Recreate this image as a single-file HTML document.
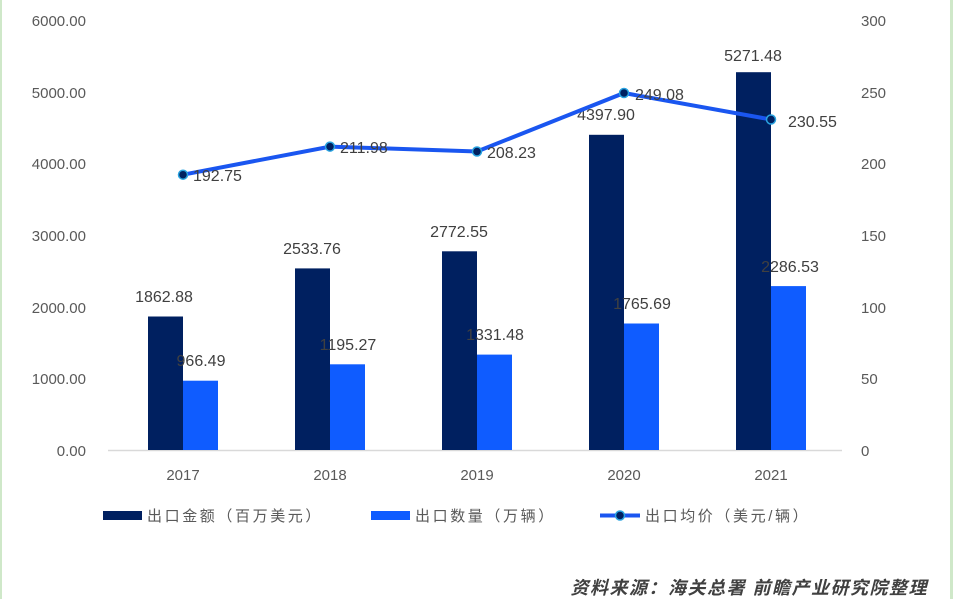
<!DOCTYPE html>
<html><head><meta charset="utf-8"><style>
html,body{margin:0;padding:0;background:#fff;}
svg{display:block;font-family:"Liberation Sans","Noto Sans CJK SC",sans-serif;}
</style></head><body>
<svg width="953" height="599" viewBox="0 0 953 599" xmlns="http://www.w3.org/2000/svg">
<rect x="0" y="0" width="953" height="599" fill="#fff"/>
<rect x="0" y="0" width="2" height="599" fill="#cfe8c9"/>
<rect x="950" y="0" width="3" height="599" fill="#cfe8c9"/>
<g font-size="15" fill="#595959" text-anchor="end">
<text x="86" y="26">6000.00</text>
<text x="86" y="98">5000.00</text>
<text x="86" y="169">4000.00</text>
<text x="86" y="241">3000.00</text>
<text x="86" y="313">2000.00</text>
<text x="86" y="384">1000.00</text>
<text x="86" y="456">0.00</text>
</g>
<g font-size="15" fill="#595959" text-anchor="start">
<text x="861" y="26">300</text>
<text x="861" y="98">250</text>
<text x="861" y="169">200</text>
<text x="861" y="241">150</text>
<text x="861" y="313">100</text>
<text x="861" y="384">50</text>
<text x="861" y="456">0</text>
</g>
<line x1="108" y1="450.5" x2="842" y2="450.5" stroke="#d9d9d9" stroke-width="1.5"/>
<g fill="#002060">
<rect x="148" y="316.5" width="35" height="133.5"/>
<rect x="295" y="268.4" width="35" height="181.6"/>
<rect x="442" y="251.3" width="35" height="198.7"/>
<rect x="589" y="134.8" width="35" height="315.2"/>
<rect x="736" y="72.2" width="35" height="377.8"/>
</g>
<g fill="#0f5cff">
<rect x="183" y="380.7" width="35" height="69.3"/>
<rect x="330" y="364.3" width="35" height="85.7"/>
<rect x="477" y="354.6" width="35" height="95.4"/>
<rect x="624" y="323.5" width="35" height="126.5"/>
<rect x="771" y="286.1" width="35" height="163.9"/>
</g>
<g font-size="16" fill="#404040" text-anchor="middle">
<text x="164" y="302">1862.88</text>
<text x="312" y="254">2533.76</text>
<text x="459" y="237">2772.55</text>
<text x="606" y="120">4397.90</text>
<text x="753" y="61">5271.48</text>
<text x="201" y="366">966.49</text>
<text x="348" y="350">1195.27</text>
<text x="495" y="340">1331.48</text>
<text x="642" y="309">1765.69</text>
<text x="790" y="272">2286.53</text>
</g>
<polyline points="183,174.7 330,146.6 477,151.5 624,93 771,119.5" fill="none" stroke="#1a56f0" stroke-width="4"/>
<g fill="#002060" stroke="#29a3e0" stroke-width="1.5">
<circle cx="183" cy="174.7" r="4.5"/><circle cx="330" cy="146.6" r="4.5"/><circle cx="477" cy="151.5" r="4.5"/><circle cx="624" cy="93" r="4.5"/><circle cx="771" cy="119.5" r="4.5"/>
</g>
<g font-size="16" fill="#404040">
<text x="193" y="181">192.75</text>
<text x="340" y="153">211.98</text>
<text x="487" y="158">208.23</text>
<text x="635" y="100">249.08</text>
<text x="788" y="127">230.55</text>
</g>
<g font-size="15" fill="#595959" text-anchor="middle">
<text x="183" y="480">2017</text><text x="330" y="480">2018</text><text x="477" y="480">2019</text><text x="624" y="480">2020</text><text x="771" y="480">2021</text>
</g>
<rect x="103" y="511" width="39" height="9" fill="#002060"/>
<text x="147" y="521" font-size="15" fill="#595959" letter-spacing="2.6">出口金额（百万美元）</text>
<rect x="371" y="511" width="39" height="9" fill="#0f5cff"/>
<text x="415" y="521" font-size="15" fill="#595959" letter-spacing="2.6">出口数量（万辆）</text>
<line x1="600" y1="515.5" x2="640" y2="515.5" stroke="#1a56f0" stroke-width="4"/>
<circle cx="620" cy="515.5" r="4.5" fill="#002060" stroke="#29a3e0" stroke-width="1.5"/>
<text x="645" y="521" font-size="15" fill="#595959" letter-spacing="2.6">出口均价（美元/辆）</text>
<text x="928" y="594" font-size="18" fill="#404040" text-anchor="end" font-style="italic" font-weight="bold" letter-spacing="1.5">资料来源：海关总署  前瞻产业研究院整理</text>
</svg>
</body></html>
